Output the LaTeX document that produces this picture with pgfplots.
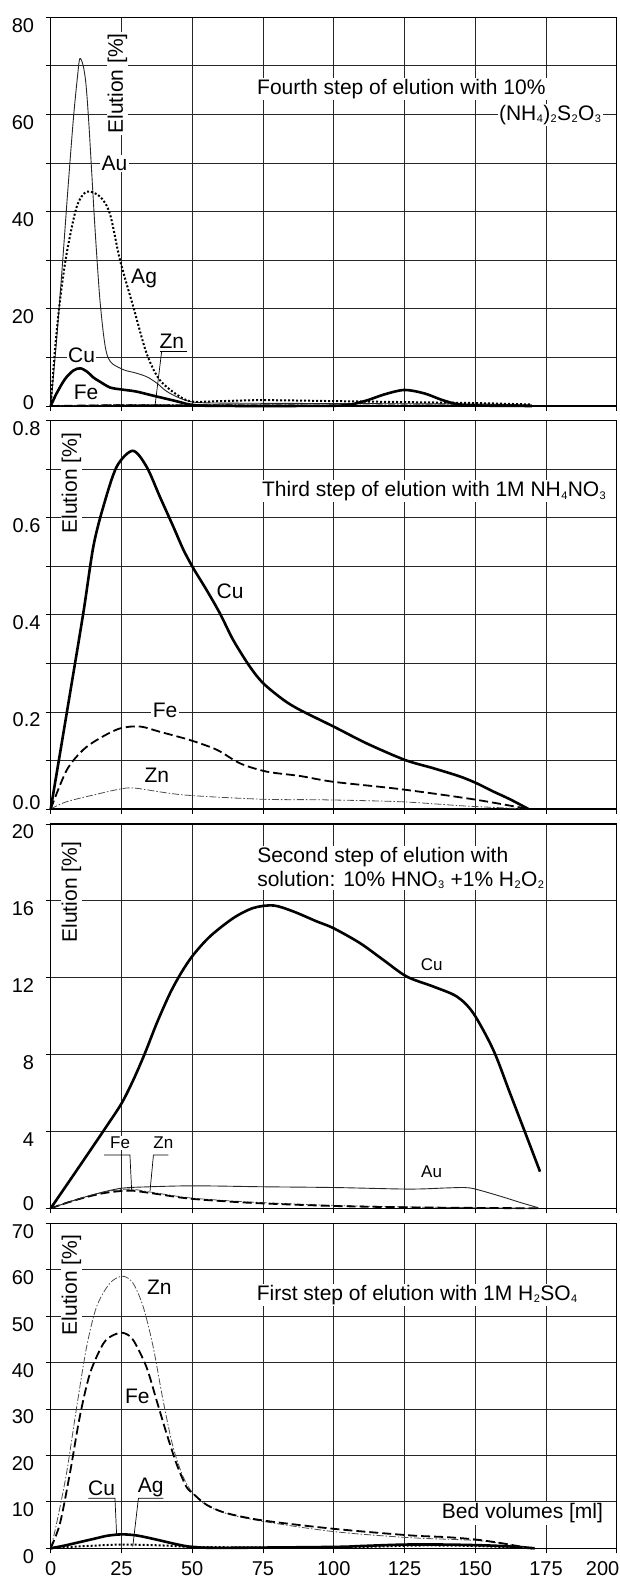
\documentclass[border=0pt]{standalone}
\usepackage{fontspec}
\setmainfont{Liberation Sans}
\usepackage{pgfplots}
\pgfplotsset{compat=1.18}
\newcommand\tfont{\fontsize{20}{24}\selectfont}
\newcommand\lfont{\fontsize{21}{24}\selectfont}
\newcommand\sfont{\fontsize{17}{20}\selectfont}
\newcommand\sub[1]{\kern0.4pt\raisebox{-2.5pt}{\fontsize{11}{11}\selectfont #1}\kern0.4pt\relax}
\pgfplotsset{
  panel/.style={
    scale only axis, width=566pt, anchor=south west,
    xmin=0, xmax=200, xtick={0,25,...,200},
    grid=major, grid style={black!85, line width=0.8pt},
    axis line style={line width=1.1pt},
    tick align=outside, major tick length=5pt,
    tick style={black, line width=0.8pt},
    xtick pos=left, ytick pos=left, clip=false,
    yticklabel style={font=\tfont, anchor=east, inner sep=0pt, yshift=-8pt, xshift=-11.4pt},
  },
  nolab/.style={xticklabels={,,,,,,,,}},
}
\tikzset{
  cu/.style={black, line width=2.6pt, smooth},
  fe/.style={black, line width=1.8pt, dash pattern=on 9pt off 4pt, smooth},
  zn/.style={black!70, line width=0.8pt, dash pattern=on 7pt off 2pt on 1.5pt off 2pt, smooth},
  au/.style={black!85, line width=0.9pt, smooth},
  ag/.style={black, line width=2pt, dash pattern=on 2pt off 2pt, smooth},
  lab/.style={font=\lfont, fill=white, inner sep=1.5pt},
  slab/.style={font=\sfont, fill=white, inner sep=1pt},
  ylab/.style={font=\lfont, fill=white, inner sep=1pt, rotate=90},
  lead/.style={black, line width=0.7pt},
}
\begin{document}
\begin{tikzpicture}
\useasboundingbox (0,0) rectangle (620pt,1577pt);
% ---------------- Panel 1 ----------------
\begin{axis}[panel, nolab, at={(50.7pt,1171pt)}, height=388.7pt, ymin=0, ymax=80,
  ytick={0,10,20,30,40,50,60,70,80}, yticklabels={,,20,,40,,60,,80}]
\addplot[zn] coordinates {(0,0) (25,0.3) (50,0.3) (100,0.4) (150,0.3) (170,0)};
\addplot[fe] coordinates {(0,0) (25,0.15) (50,0.1) (100,0) (170,0)};
\addplot[au] coordinates {(0,0) (2,13) (4,28) (6,44) (8,59) (9.5,68) (10.3,71.5) (11.5,70) (12.5,66) (13.5,58) (14.5,48) (15.5,38) (16.5,29) (17.4,21.8) (18.6,15) (19.5,11.5) (20.4,9.8) (22,8.6) (26,7.4) (30,6.8) (34,6.0) (37.5,4.7) (41,3.0) (45.7,1.6) (50.4,0.8) (60,0.6) (100,0.5) (150,0.4) (170,0.2)};
\addplot[ag] coordinates {(0,0) (1.5,11.5) (3.3,21.8) (5.65,31.4) (9.2,41) (12.7,44.1) (17.4,43.1) (20.9,39.6) (24.5,30) (29.2,20.4) (33.9,10.8) (38.6,5.3) (45.7,1.9) (50.4,0.9) (60,1.0) (75,1.2) (100,1.0) (125,0.8) (150,0.6) (170,0.3)};
\addplot[cu] coordinates {(0,0) (2,2.5) (5,5.5) (8,7.3) (10.5,7.75) (13,7.0) (15,5.9) (17.4,5.0) (21,3.8) (25,3.4) (30,3.0) (35,2.3) (40,1.6) (45,0.9) (49.2,0.3) (55,0.05) (75,0) (100,0.05) (106,0.3) (112,1.2) (118,2.4) (125,3.3) (132,2.6) (138,1.3) (143.5,0.4) (150,0.1) (170,0)};
\node[ylab] at (axis cs:23.6,66.4) {Elution [\%]};
\node[lab] at (axis cs:22.5,49.9) {Au};
\node[lab] at (axis cs:33,26.3) {Ag};
\node[lab] at (axis cs:10.9,10.5) {Cu};
\node[lab, fill=none] at (axis cs:12.5,2.9) {Fe};
\node[lab, fill=none] at (axis cs:42.8,13.4) {Zn};
\draw[lead] (axis cs:38.6,11.2) -- (axis cs:48.1,11.2);
\draw[lead] (axis cs:39.2,11.2) -- (axis cs:36.9,0.2);
\node[lab] at (axis cs:123.9,65.2) {Fourth step of elution with 10\%};
\node[lab] at (axis cs:176.5,59.9) {(NH\sub{4})\sub{2}S\sub{2}O\sub{3}};
\end{axis}
% ---------------- Panel 2 ----------------
\begin{axis}[panel, nolab, at={(50.7pt,768pt)}, height=388.3pt, ymin=0, ymax=0.8,
  ytick={0,0.1,0.2,0.3,0.4,0.5,0.6,0.7,0.8}, yticklabels={,,0.2,,0.4,,0.6,,0.8},
  yticklabel style={xshift=6.4pt}]
\addplot[zn] coordinates {(0,0) (5.65,0.015) (17.4,0.032) (24.5,0.041) (29.8,0.043) (46.9,0.029) (75.1,0.02) (95.2,0.019) (123.4,0.015) (147,0.006) (168.8,0)};
\addplot[fe] coordinates {(0,0) (5.65,0.08) (11.5,0.122) (17.4,0.146) (24.5,0.166) (31.5,0.17) (38.6,0.159) (49.2,0.142) (58.7,0.122) (66.9,0.094) (76.3,0.077) (88.1,0.068) (99.9,0.056) (123.4,0.041) (149.3,0.02) (168.8,0)};
\addplot[cu] coordinates {(0,0) (5.65,0.197) (11.5,0.403) (15.05,0.54) (18.6,0.623) (23.3,0.705) (29,0.738) (33.9,0.705) (38.6,0.643) (43.3,0.582) (46.9,0.534) (50.4,0.496) (55.1,0.451) (59.8,0.403) (64.5,0.348) (70.4,0.293) (75.1,0.259) (82.2,0.225) (88.1,0.204) (99.9,0.17) (111.7,0.135) (125.2,0.101) (135.2,0.084) (144.6,0.067) (150.5,0.053) (156.4,0.036) (162.3,0.02) (168.8,0)};
\node[ylab] at (axis cs:7.3,0.671) {Elution [\%]};
\node[lab] at (axis cs:63.4,0.448) {Cu};
\node[lab] at (axis cs:40.4,0.204) {Fe};
\node[lab] at (axis cs:37.5,0.070) {Zn};
\node[lab] at (axis cs:135.5,0.655) {Third step of elution with 1M NH\sub{4}NO\sub{3}};
\end{axis}
% ---------------- Panel 3 ----------------
\begin{axis}[panel, nolab, at={(50.7pt,368.7pt)}, height=384.3pt, ymin=0, ymax=20,
  ytick={0,4,8,12,16,20}, yticklabels={,4,8,12,16,20}]
\addplot[zn] coordinates {(0,0) (6,0.32) (13,0.62) (20,0.88) (28,1.0) (35,0.85) (48,0.56) (60,0.42) (74,0.3) (100,0.15) (126,0.07) (150,0.03) (172,0)};
\addplot[fe] coordinates {(0,0) (6,0.3) (13,0.6) (20,0.82) (28,0.92) (35,0.8) (48,0.52) (60,0.38) (74,0.26) (100,0.12) (126,0.05) (150,0.02) (172,0)};
\addplot[au] coordinates {(0,0) (8,0.4) (16,0.75) (24.8,1.04) (35,1.12) (50.9,1.17) (75,1.12) (100.5,1.08) (126.6,1.0) (140,1.06) (146.2,1.08) (150.1,1.0) (159.3,0.61) (166,0.3) (172.3,0.03)};
\addplot[cu] coordinates {(0,0) (6.8,1.46) (13,2.8) (19.2,4.15) (25,5.45) (29.2,6.68) (33.3,8.07) (37.5,9.64) (42.2,11.2) (46.3,12.3) (50.4,13.19) (56.3,14.15) (64.5,15.1) (71.6,15.63) (78.7,15.76) (85.7,15.45) (94,14.93) (99.9,14.58) (109.3,13.8) (117.5,12.93) (125.8,12.06) (135.2,11.54) (143.5,11.02) (149.3,10.16) (156.4,8.24) (162.3,5.99) (168.2,3.73) (172.9,1.91)};
\node[ylab] at (axis cs:7.3,16.45) {Elution [\%]};
\node[slab] at (axis cs:134.6,12.7) {Cu};
\node[slab] at (axis cs:134.6,1.9) {Au};
\node[slab] at (axis cs:24.5,3.4) {Fe};
\node[slab] at (axis cs:39.8,3.4) {Zn};
\draw[lead] (axis cs:18.9,2.77) -- (axis cs:28.0,2.77) -- (axis cs:28.6,0.95);
\draw[lead] (axis cs:41.6,2.77) -- (axis cs:36.3,2.77) -- (axis cs:35.1,0.9);
\node[lab, anchor=west, align=left, font=\fontsize{21}{23.5}\selectfont] at (axis cs:72.4,17.7) {Second step of elution with\\solution: 10\% HNO\sub{3} +1\% H\sub{2}O\sub{2}};
\end{axis}
% ---------------- Panel 4 ----------------
\begin{axis}[panel, at={(50.7pt,28.7pt)}, height=325pt, ymin=0, ymax=70,
  ytick={0,10,20,30,40,50,60,70}, yticklabels={0,10,20,30,40,50,60,70},
  xticklabels={0,25,50,75,100,125,150,175,{}},
  xticklabel style={font=\tfont, anchor=north, inner sep=0pt, yshift=-8pt}]
\addplot[ag] coordinates {(0,0) (10,0.4) (25,0.8) (40,0.6) (50,0.3) (75,0.2) (110,0.3) (130,0.6) (150,0.5) (170,0)};
\addplot[cu] coordinates {(0,0) (5,0.6) (10,1.3) (15,2.0) (20,2.7) (25,3.0) (30,2.8) (35,2.2) (40,1.5) (45,0.8) (50,0.3) (60,0.1) (100,0.3) (110,0.5) (125,0.8) (140,0.8) (155,0.6) (165,0.3) (171,0)};
\addplot[zn] coordinates {(0,0) (2.1,5.4) (5.6,16.2) (9.2,30.5) (12.7,43.4) (16.2,52) (20.9,57.1) (25.4,58.6) (29.1,57.1) (32.7,52) (36.2,43.4) (39.7,31.9) (43.2,21.9) (46.8,15.4) (50.3,11.8) (55,9.3) (62,7.5) (75,5.8) (100,3.6) (126.6,2.3) (150,1.7) (160,1.0) (168.4,0)};
\addplot[fe] coordinates {(0,0) (3.3,5.4) (6.8,16.2) (10.3,28.4) (13.9,37.7) (18.6,44.1) (22.1,45.9) (25.6,46.4) (29.1,44.9) (33.8,39.1) (37.4,31.9) (40.9,24.8) (44.4,18.3) (47.9,13.3) (50.3,11.8) (55,9.4) (62,7.6) (75,6.0) (100,4.2) (126.6,2.8) (140,2.4) (150,1.9) (159.3,1.1) (168.4,0.1)};
\node[ylab] at (axis cs:7.3,56.7) {Elution [\%]};
\node[lab] at (axis cs:38.4,56.3) {Zn};
\node[lab] at (axis cs:30.6,32.7) {Fe};
\node[lab, fill=none] at (axis cs:18.0,13.0) {Cu};
\node[lab, fill=none] at (axis cs:35.3,13.0) {Ag};
\draw[lead] (axis cs:13.3,10.8) -- (axis cs:22.7,10.8) -- (axis cs:23.3,2.9);
\draw[lead] (axis cs:39.8,10.8) -- (axis cs:31.0,10.8) -- (axis cs:29.0,0.35);
\node[lab] at (axis cs:129.5,54.6) {First step of elution with 1M H\sub{2}SO\sub{4}};
\node[lab] at (axis cs:166.7,7.5) {Bed volumes [ml]};
\end{axis}
% zero labels and last x label
\node[font=\tfont, anchor=east, inner sep=0pt] at (34.3pt,1174pt) {0};
\node[font=\tfont, anchor=east, inner sep=0pt] at (40.7pt,774.7pt) {0.0};
\node[font=\tfont, anchor=east, inner sep=0pt] at (34.3pt,373pt) {0};
\node[font=\tfont, anchor=north east, inner sep=0pt] at (619.5pt,15.3pt) {200};
\end{tikzpicture}
\end{document}
